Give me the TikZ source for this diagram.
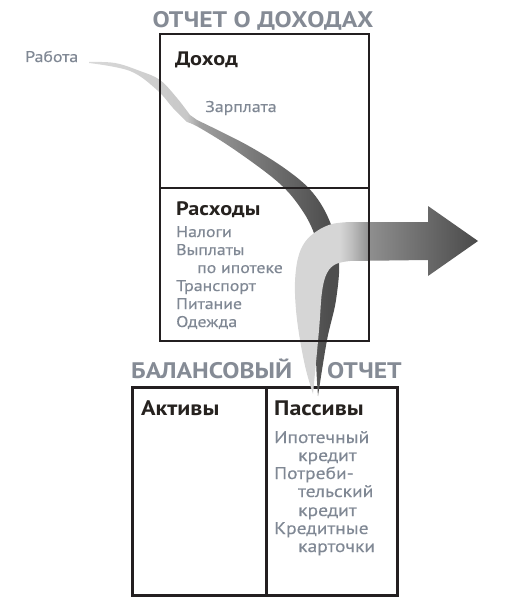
\documentclass[tikz,border=0pt]{standalone}
\usepackage{fontspec}
\setmainfont{PT Sans}
\newfontfamily\wideboldfam{PT Sans Bold}[FakeStretch=1.14]
\newfontfamily\wideitemfam{PT Sans}[FakeStretch=1.15, FakeBold=0.4]
\definecolor{titlegray}{HTML}{858B95}
\definecolor{itemgray}{HTML}{808894}
\definecolor{headc}{HTML}{26221F}
\definecolor{boxc}{HTML}{231F20}
\definecolor{ra}{HTML}{D9D9D9}
\definecolor{rb}{HTML}{C8C8C8}
\definecolor{rc}{HTML}{A0A0A0}
\definecolor{rd}{HTML}{7C7C7C}
\definecolor{re}{HTML}{4D4D4D}
\definecolor{aa}{HTML}{D6D6D6}
\definecolor{ab}{HTML}{BDBDBD}
\definecolor{ac}{HTML}{8E8E8E}
\definecolor{ad}{HTML}{6E6E6E}
\definecolor{ae}{HTML}{4A4A4A}
\pgfdeclarehorizontalshading{incomeshade}{100bp}{color(0bp)=(ra); color(25bp)=(ra); color(44.5bp)=(rb); color(47bp)=(rc); color(57bp)=(rd); color(73bp)=(re); color(100bp)=(re)}
\pgfdeclarehorizontalshading{arrowshade}{100bp}{color(0bp)=(aa); color(37.3bp)=(aa); color(40.6bp)=(ab); color(45.5bp)=(ac); color(59.2bp)=(ad); color(75bp)=(ae); color(100bp)=(ae)}
\newcommand\mytitlefont{\wideboldfam\fontsize{22.5}{22.5}\selectfont}
\newcommand\myheadfont{\wideboldfam\fontsize{19.5}{19.5}\selectfont}
\newcommand\myheadfontb{\wideboldfam\fontsize{21}{21}\selectfont}
\newcommand\myitemfont{\wideitemfam\fontsize{15.5}{15.5}\selectfont}
\newcommand\myitemfontb{\wideitemfam\fontsize{17}{17}\selectfont}
\begin{document}
\begin{tikzpicture}[x=1pt,y=-1pt,
  titletext/.style={font=\mytitlefont, text=titlegray, inner sep=0pt},
  headtext/.style={font=\myheadfont, text=headc, inner sep=0pt, anchor=base west},
  headtextb/.style={headtext, font=\myheadfontb},
  itemtext/.style={font=\myitemfont, text=itemgray, inner sep=0pt, anchor=base west},
  itemtextb/.style={itemtext, font=\myitemfontb},
  boxline/.style={draw=boxc, line width=2.6pt},
  boxthick/.style={draw=boxc, line width=3pt}]
\useasboundingbox (0,0) rectangle (518,615);
% balance sheet box (below arrows)
\draw[boxthick] (132,387) rectangle (397,595);
\draw[boxthick] (266,387) -- (266,595);
\node[titletext, anchor=base west] (bs) at (131,378) {БАЛАНСОВЫЙ\hspace{35pt}ОТЧЕТ};
% income ribbon
\path[shading=incomeshade]
  plot[smooth, tension=0.6] coordinates {(89,62) (115,63) (140,71) (160,80) (177,98) (190,115)}
  -- plot[smooth, tension=0.6] coordinates {(197,120) (247,145) (287,170) (313,193) (330,222) (339,258) (336,300) (327,340) (318,396)}
  -- plot[smooth, tension=0.6] coordinates {(318,396) (316,350) (320,300) (321,265) (315,236) (302,210) (279,183) (235,150) (200,128) (187,122)}
  -- plot[smooth, tension=0.6] coordinates {(187,122) (173,108) (157,90) (130,71) (89,63)}
  -- cycle;
% big arrow
\path[shading=arrowshade]
  plot[smooth, tension=0.6] coordinates {(313,394) (306,370) (300,340) (296,310) (295,282) (298,258) (305,242) (317,231) (332,224) (350,222)}
  -- (428,222) -- (428,206) -- (478,241) -- (428,276) -- (428,260) -- (350,261)
  -- plot[smooth, tension=0.6] coordinates {(350,261) (336,264) (327,273) (322,292) (319,330) (313,394)}
  -- cycle;
% income statement box (on top)
\draw[boxline] (160,34) rectangle (369,341);
\draw[boxline] (160,188) -- (369,188);
\node[titletext, anchor=base] (is) at (263,28) {ОТЧЕТ О ДОХОДАХ};
\node[itemtext] (work) at (25,62) {Работа};
\node[headtext] (inc) at (175,66) {Доход};
\node[itemtext] (sal) at (205,112) {Зарплата};
\node[headtext] (exp) at (176,215) {Расходы};
\node[itemtext] (e1) at (176,237) {Налоги};
\node[itemtext] (e2) at (176,255) {Выплаты};
\node[itemtext] (e3) at (197,273) {по ипотеке};
\node[itemtext] (e4) at (176,291) {Транспорт};
\node[itemtext] (e5) at (176,309) {Питание};
\node[itemtext] (e6) at (176,327) {Одежда};
\node[headtextb] (as) at (141,415) {Активы};
\node[headtextb] (li) at (274,415) {Пассивы};
\node[itemtextb] (l1) at (274,443) {Ипотечный};
\node[itemtextb] (l2) at (298,461) {кредит};
\node[itemtextb] (l3) at (274,479) {Потреби-};
\node[itemtextb] (l4) at (298,497) {тельский};
\node[itemtextb] (l5) at (298,516) {кредит};
\node[itemtextb] (l6) at (274,534) {Кредитные};
\node[itemtextb] (l7) at (298,552) {карточки};
\end{tikzpicture}
\end{document}
